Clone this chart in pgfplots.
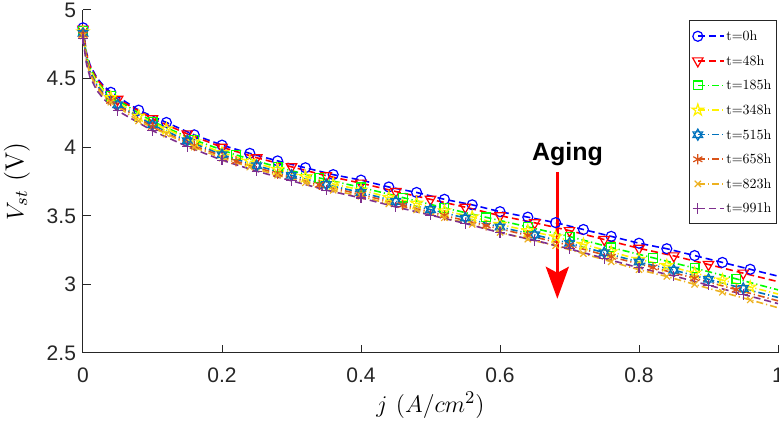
\documentclass[border=0pt]{standalone}
\usepackage{fontspec}
\usepackage{pgfplots}
\pgfplotsset{compat=1.18}
\usetikzlibrary{arrows.meta}
\newfontfamily\arial{Liberation Sans}
\newfontfamily\lmten{lmroman10-regular.otf}
\definecolor{c515}{rgb}{0,0.447,0.741}
\definecolor{c658}{rgb}{0.85,0.325,0.098}
\definecolor{c823}{rgb}{0.929,0.694,0.125}
\definecolor{c991}{rgb}{0.494,0.184,0.556}
\definecolor{axgray}{rgb}{0.15,0.15,0.15}
\pgfdeclareplotmark{pentagram}{%
  \pgfpathmoveto{\pgfpointpolar{90}{\pgfplotmarksize}}%
  \pgfpathlineto{\pgfpointpolar{126}{0.382\pgfplotmarksize}}%
  \pgfpathlineto{\pgfpointpolar{162}{\pgfplotmarksize}}%
  \pgfpathlineto{\pgfpointpolar{198}{0.382\pgfplotmarksize}}%
  \pgfpathlineto{\pgfpointpolar{234}{\pgfplotmarksize}}%
  \pgfpathlineto{\pgfpointpolar{270}{0.382\pgfplotmarksize}}%
  \pgfpathlineto{\pgfpointpolar{306}{\pgfplotmarksize}}%
  \pgfpathlineto{\pgfpointpolar{342}{0.382\pgfplotmarksize}}%
  \pgfpathlineto{\pgfpointpolar{18}{\pgfplotmarksize}}%
  \pgfpathlineto{\pgfpointpolar{54}{0.382\pgfplotmarksize}}%
  \pgfpathclose\pgfusepathqstroke}
\pgfdeclareplotmark{hexagram}{%
  \pgfpathmoveto{\pgfpointpolar{90}{\pgfplotmarksize}}%
  \pgfpathlineto{\pgfpointpolar{210}{\pgfplotmarksize}}%
  \pgfpathlineto{\pgfpointpolar{330}{\pgfplotmarksize}}%
  \pgfpathclose
  \pgfpathmoveto{\pgfpointpolar{270}{\pgfplotmarksize}}%
  \pgfpathlineto{\pgfpointpolar{30}{\pgfplotmarksize}}%
  \pgfpathlineto{\pgfpointpolar{150}{\pgfplotmarksize}}%
  \pgfpathclose\pgfusepathqstroke}
\begin{document}
\begin{tikzpicture}
\begin{axis}[
  scale only axis,
  width=347.5pt, height=171.5pt,
  xmin=0, xmax=1, ymin=2.5, ymax=5,
  xtick={0,0.2,0.4,0.6,0.8,1},
  ytick={2.5,3,3.5,4,4.5,5},
  axis x line=bottom, axis y line=left,
  axis line style={-, axgray, line width=0.5pt},
  tick align=inside,
  major tick length=4pt,
  tick style={axgray, line width=0.5pt},
  clip=false,
  /pgf/number format/assume math mode=true,
  tick label style={font=\arial\fontsize{10.5}{12}\selectfont, text=axgray},
  xticklabel style={yshift=-4pt},
  xlabel={$j\ (A/cm^2)$},
  ylabel={$V_{st}$ (V)},
  label style={font=\fontsize{13}{15}\selectfont},
  xlabel style={at={(axis description cs:0.5,-0.152)}, anchor=center},
  ylabel style={at={(axis description cs:-0.095,0.5)}, anchor=center},
  legend cell align=left,
  legend style={at={(0.998,0.97)}, anchor=north east, draw=axgray, line width=0.5pt,
    font=\lmten\fontsize{7}{8}\selectfont, inner xsep=1.5pt, inner ysep=2pt, row sep=0.8pt,
    nodes={inner xsep=0.8pt, inner ysep=2.5pt, text height=5.5pt, text depth=1pt}},
  legend image code/.code={\draw[mark repeat=2,mark phase=2,#1] plot coordinates {(0cm,0cm) (0.23cm,0cm) (0.46cm,0cm)};},
  every axis plot/.append style={line width=0.8pt, mark size=2.5pt, mark options={solid, line width=0.6pt}},
]
\addplot[blue, dash pattern=on 3.5pt off 2pt, mark=o,
  mark indices={1,7,8,9,10,11,12,13,14,15,16,17,18,19,20,21,22,23,24,25,26,27,28,29,30}] coordinates {
(0,4.87)(0.0025,4.78)(0.005,4.69)(0.01,4.60)(0.02,4.505)(0.03,4.445)(0.04,4.40)(0.08,4.27)(0.12,4.18)(0.16,4.09)(0.20,4.015)(0.24,3.955)(0.28,3.90)(0.32,3.85)(0.36,3.80)(0.40,3.76)(0.44,3.71)(0.48,3.67)(0.52,3.62)(0.56,3.58)(0.60,3.53)(0.64,3.49)(0.68,3.45)(0.72,3.40)(0.76,3.35)(0.80,3.30)(0.84,3.26)(0.88,3.21)(0.92,3.16)(0.96,3.11)(1.00,3.06)};
\addlegendentry{t=0h}
\addplot[red, dash pattern=on 3.5pt off 2pt, mark=triangle, mark size=3pt, mark options={solid, rotate=180, line width=0.6pt},
  mark indices={1,8,9,10,11,12,13,14,15,16,17,18,19,20,21,22,23,24,25,26}] coordinates {
(0,4.86)(0.0025,4.77)(0.005,4.68)(0.01,4.59)(0.02,4.495)(0.03,4.435)(0.04,4.39)(0.05,4.35)(0.10,4.208)(0.15,4.097)(0.20,4.00)(0.25,3.923)(0.30,3.857)(0.35,3.792)(0.40,3.738)(0.45,3.677)(0.50,3.62)(0.55,3.563)(0.60,3.501)(0.65,3.449)(0.70,3.392)(0.75,3.327)(0.80,3.263)(0.85,3.208)(0.90,3.145)(0.95,3.082)(1.00,3.02)};
\addlegendentry{t=48h}
\addplot[green, dash pattern=on 3.5pt off 1.5pt on 0.6pt off 1.5pt, mark=square, mark size=2.2pt,
  mark indices={1,7,8,9,10,11,12,13,14,15,16,17,18,19,20,21,22}] coordinates {
(0,4.85)(0.0025,4.758)(0.005,4.666)(0.01,4.578)(0.02,4.481)(0.03,4.419)(0.04,4.372)(0.10,4.187)(0.16,4.053)(0.22,3.944)(0.28,3.855)(0.34,3.776)(0.40,3.707)(0.46,3.633)(0.52,3.558)(0.58,3.489)(0.64,3.419)(0.70,3.349)(0.76,3.269)(0.82,3.194)(0.88,3.119)(0.94,3.04)(1.00,2.96)};
\addlegendentry{t=185h}
\addplot[yellow, dash pattern=on 3.5pt off 1.5pt on 0.6pt off 1.5pt, mark=pentagram, mark size=3pt,
  mark indices={1,7,8,9,10,11,12,13,14,15,16,17,18,19,20,21,22,23,24,25,26,27,28,29,30}] coordinates {
(0,4.84)(0.0025,4.75)(0.005,4.66)(0.01,4.568)(0.02,4.471)(0.03,4.409)(0.04,4.362)(0.08,4.227)(0.12,4.133)(0.16,4.039)(0.20,3.960)(0.24,3.897)(0.28,3.838)(0.32,3.785)(0.36,3.732)(0.40,3.688)(0.44,3.635)(0.48,3.592)(0.52,3.537)(0.56,3.492)(0.60,3.437)(0.64,3.392)(0.68,3.347)(0.72,3.292)(0.76,3.237)(0.80,3.182)(0.84,3.137)(0.88,3.083)(0.92,3.032)(0.96,2.981)(1.00,2.93)};
\addlegendentry{t=348h}
\addplot[c515, dash pattern=on 3.5pt off 1.5pt on 0.6pt off 1.5pt, mark=hexagram, mark size=2.8pt,
  mark indices={1,8,9,10,11,12,13,14,15,16,17,18,19,20,21,22,23,24,25,26}] coordinates {
(0,4.83)(0.0025,4.738)(0.005,4.646)(0.01,4.552)(0.02,4.453)(0.03,4.39)(0.04,4.352)(0.05,4.31)(0.10,4.163)(0.15,4.047)(0.20,3.945)(0.25,3.865)(0.30,3.795)(0.35,3.727)(0.40,3.67)(0.45,3.605)(0.50,3.545)(0.55,3.484)(0.60,3.418)(0.65,3.361)(0.70,3.30)(0.75,3.231)(0.80,3.163)(0.85,3.104)(0.90,3.037)(0.95,2.97)(1.00,2.905)};
\addlegendentry{t=515h}
\addplot[c658, dash pattern=on 3.5pt off 1.5pt on 0.6pt off 1.5pt, mark=asterisk, mark size=2.6pt,
  mark indices={1,7,8,9,10,11,12,13,14,15,16,17,18,19,20,21,22}] coordinates {
(0,4.82)(0.0025,4.728)(0.005,4.636)(0.01,4.542)(0.02,4.443)(0.03,4.38)(0.04,4.338)(0.10,4.148)(0.16,4.01)(0.22,3.898)(0.28,3.807)(0.34,3.726)(0.40,3.655)(0.46,3.579)(0.52,3.502)(0.58,3.429)(0.64,3.357)(0.70,3.284)(0.76,3.201)(0.82,3.123)(0.88,3.045)(0.94,2.962)(1.00,2.88)};
\addlegendentry{t=658h}
\addplot[c823, dash pattern=on 3.5pt off 1.5pt on 0.6pt off 1.5pt, mark=x, mark size=2.2pt,
  mark indices={1,7,8,9,10,11,12,13,14,15,16,17,18,19,20,21,22,23,24,25,26,27,28,29,30}] coordinates {
(0,4.81)(0.0025,4.718)(0.005,4.626)(0.01,4.532)(0.02,4.433)(0.03,4.37)(0.04,4.328)(0.08,4.191)(0.12,4.096)(0.16,4.00)(0.20,3.92)(0.24,3.855)(0.28,3.796)(0.32,3.741)(0.36,3.686)(0.40,3.642)(0.44,3.587)(0.48,3.542)(0.52,3.486)(0.56,3.437)(0.60,3.379)(0.64,3.33)(0.68,3.282)(0.72,3.224)(0.76,3.165)(0.80,3.107)(0.84,3.058)(0.88,3.00)(0.92,2.943)(0.96,2.887)(1.00,2.83)};
\addlegendentry{t=823h}
\addplot[c991, dash pattern=on 3.5pt off 2pt, mark=+, mark size=2.6pt,
  mark indices={1,8,9,10,11,12,13,14,15,16,17,18,19,20,21,22,23,24,25,26}] coordinates {
(0,4.79)(0.0025,4.698)(0.005,4.606)(0.01,4.512)(0.02,4.413)(0.03,4.35)(0.04,4.308)(0.05,4.265)(0.10,4.12)(0.15,4.005)(0.20,3.905)(0.25,3.825)(0.30,3.755)(0.35,3.687)(0.40,3.63)(0.45,3.565)(0.50,3.505)(0.55,3.444)(0.60,3.377)(0.65,3.321)(0.70,3.259)(0.75,3.19)(0.80,3.121)(0.85,3.062)(0.90,2.994)(0.95,2.927)(1.00,2.86)};
\addlegendentry{t=991h}
\draw[red, line width=1.6pt, -{Stealth[width=11.5pt,length=16pt,inset=3pt]}] (axis cs:0.6825,3.82) -- (axis cs:0.6825,2.895);
\node[anchor=base, font=\arial\bfseries\fontsize{12.5}{14}\selectfont, text=black, inner sep=0pt] at (axis cs:0.697,3.90) {Aging};
\end{axis}
\pgfresetboundingbox
\useasboundingbox ([xshift=-41.5pt, yshift=-36pt]current axis.south west) rectangle ([xshift=0.5pt, yshift=5pt]current axis.north east);
\end{tikzpicture}
\end{document}
